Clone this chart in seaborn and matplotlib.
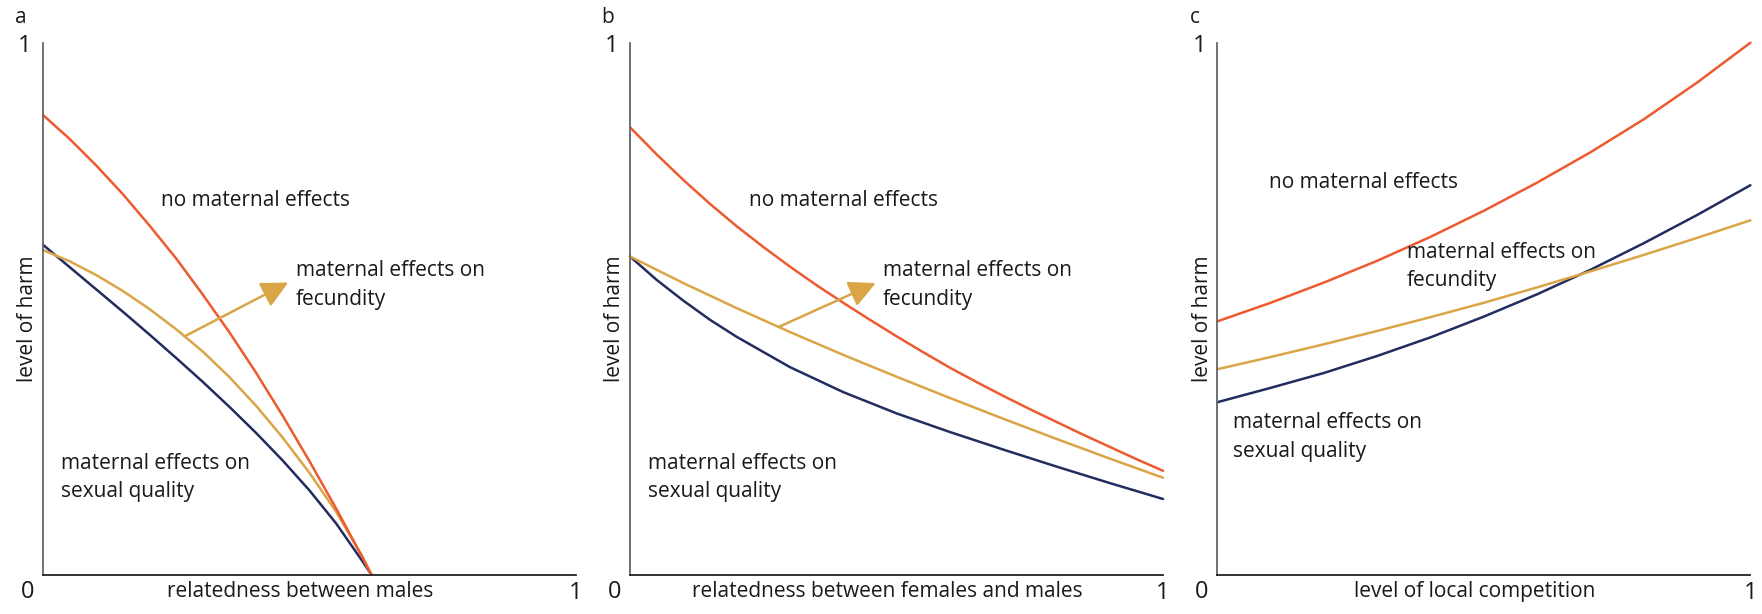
import matplotlib
matplotlib.use("Agg")
import matplotlib.pyplot as plt
import seaborn as sns
import numpy as np
import pandas as pd

# cores das curvas
RED = "#EE5A2F"
GOLD = "#D9A546"
NAVY = "#232C5F"

# painel a - parentesco entre machos
a_x = [0, 0.05, 0.1, 0.15, 0.2, 0.25, 0.3, 0.35, 0.4, 0.45, 0.5, 0.55, 0.6, 0.616]
a_red_y = [0.864, 0.819, 0.769, 0.715, 0.656, 0.594, 0.526, 0.455, 0.379, 0.298, 0.213, 0.124, 0.031, 0.0]
a_gold_y = [0.610, 0.589, 0.563, 0.533, 0.499, 0.461, 0.419, 0.371, 0.317, 0.257, 0.191, 0.118, 0.032, 0.0]
a_navy_y = [0.620, 0.578, 0.536, 0.494, 0.451, 0.407, 0.362, 0.315, 0.266, 0.214, 0.158, 0.096, 0.024, 0.0]
a_arrow = [(0.266, 0.448), (0.460, 0.549)]

# painel b - parentesco entre femeas e machos
b_red_x = [0, 0.05, 0.1, 0.15, 0.2, 0.25, 0.3, 0.35, 0.4, 0.45, 0.5, 0.55, 0.6, 0.65, 0.7, 0.75, 0.8, 0.85, 0.9, 0.95, 1.0]
b_red_y = [0.841, 0.790, 0.742, 0.697, 0.655, 0.616, 0.579, 0.544, 0.511, 0.479, 0.448, 0.418, 0.389, 0.362, 0.336, 0.311, 0.287, 0.263, 0.240, 0.217, 0.195]
b_gold_x = [0, 0.1, 0.2, 0.3, 0.4, 0.5, 0.6, 0.7, 0.8, 0.9, 1.0]
b_gold_y = [0.598, 0.548, 0.501, 0.456, 0.413, 0.372, 0.332, 0.293, 0.255, 0.218, 0.182]
b_navy_x = [0, 0.05, 0.1, 0.15, 0.2, 0.3, 0.4, 0.5, 0.6, 0.7, 0.8, 0.9, 1.0]
b_navy_y = [0.598, 0.554, 0.515, 0.479, 0.447, 0.390, 0.343, 0.303, 0.268, 0.235, 0.203, 0.172, 0.142]
b_arrow = [(0.280, 0.466), (0.461, 0.548)]

# painel c - competicao local
c_x = [0, 0.1, 0.2, 0.3, 0.4, 0.5, 0.6, 0.7, 0.8, 0.9, 1.0]
c_red_y = [0.476, 0.511, 0.549, 0.590, 0.635, 0.684, 0.737, 0.794, 0.856, 0.925, 1.0]
c_gold_y = [0.386, 0.409, 0.433, 0.458, 0.484, 0.511, 0.540, 0.570, 0.601, 0.633, 0.666]
c_navy_y = [0.324, 0.351, 0.379, 0.411, 0.446, 0.485, 0.527, 0.573, 0.623, 0.676, 0.732]

xlabels = ["relatedness between males", "relatedness between females and males", "level of local competition"]
panel_tags = ["a", "b", "c"]

# posicoes dos textos (coordenadas de dados)
txt_none = [(0.222, 0.704), (0.223, 0.704), (0.097, 0.737)]
txt_fec = [(0.474, 0.572, 0.518), (0.475, 0.572, 0.518), (0.355, 0.605, 0.552)]
txt_sex = [(0.033, 0.209, 0.156), (0.034, 0.209, 0.156), (0.030, 0.286, 0.232)]

sns.set_theme(style="white")
plt.rcParams["font.family"] = ["Open Sans", "DejaVu Sans"]

fig = plt.figure(figsize=(17.62, 6.14), dpi=100)
lefts = [43 / 1762, 630 / 1762, 1217.4 / 1762]
W = 533 / 1762
B = (614 - 574.5) / 614
H = (574.5 - 42.7) / 614

panels = [
    [(a_x, a_navy_y, NAVY), (a_x, a_gold_y, GOLD), (a_x, a_red_y, RED)],
    [(b_navy_x, b_navy_y, NAVY), (b_gold_x, b_gold_y, GOLD), (b_red_x, b_red_y, RED)],
    [(c_x, c_navy_y, NAVY), (c_x, c_gold_y, GOLD), (c_x, c_red_y, RED)],
]
arrows = [a_arrow, b_arrow, None]

FS = 15
TXT = "#1a1a1a"
for i in range(3):
    ax = fig.add_axes([lefts[i], B, W, H])
    for xs, ys, col in panels[i]:
        sns.lineplot(x=xs, y=ys, ax=ax, color=col, lw=1.8, sort=False, clip_on=False)
    ax.set_xlim(0, 1)
    ax.set_ylim(0, 1)
    for s in ["top", "right"]:
        ax.spines[s].set_visible(False)
    ax.spines["left"].set_color("#666666")
    ax.spines["bottom"].set_color("#222222")
    ax.spines["left"].set_linewidth(1.3)
    ax.spines["bottom"].set_linewidth(1.3)
    ax.set_xticks([1])
    ax.set_yticks([1])
    ax.set_xticklabels(["1"])
    ax.set_yticklabels(["1"])
    ax.tick_params(axis="both", direction="in", length=5, width=1.2, labelsize=17,
                   colors="#555555", labelcolor=TXT)
    ax.tick_params(axis="y", pad=8)
    ax.tick_params(axis="x", pad=5)

    ax.annotate("0", xy=(0, 0), xycoords="axes fraction", xytext=(-11, -12.5), textcoords="offset points",
                ha="center", va="center", fontsize=17, color=TXT)
    ax.annotate(xlabels[i], xy=(0.483, 0), xycoords="axes fraction", xytext=(0, -12.5), textcoords="offset points",
                ha="center", va="center", fontsize=FS, color=TXT)
    ax.annotate("level of harm", xy=(0, 0.48), xycoords="axes fraction", xytext=(-11, 0), textcoords="offset points",
                ha="center", va="center", rotation=90, fontsize=FS, color=TXT)
    ax.annotate(panel_tags[i], xy=(0, 1), xycoords="axes fraction", xytext=(-16, 18), textcoords="offset points",
                ha="center", va="center", fontsize=FS, color=TXT)

    x0, y0 = txt_none[i]
    ax.text(x0, y0, "no maternal effects", ha="left", va="center", fontsize=FS, color=TXT)
    x0, y1, y2 = txt_fec[i]
    ax.text(x0, y1, "maternal effects on", ha="left", va="center", fontsize=FS, color=TXT)
    ax.text(x0, y2, "fecundity", ha="left", va="center", fontsize=FS, color=TXT)
    x0, y1, y2 = txt_sex[i]
    ax.text(x0, y1, "maternal effects on", ha="left", va="center", fontsize=FS, color=TXT)
    ax.text(x0, y2, "sexual quality", ha="left", va="center", fontsize=FS, color=TXT)

    if arrows[i] is not None:
        (bx, by), (tx, ty) = arrows[i]
        ax.annotate("", xy=(tx, ty), xytext=(bx, by),
                    arrowprops=dict(arrowstyle="-|>,head_length=0.9,head_width=0.45", color=GOLD, lw=1.8,
                                    mutation_scale=18, shrinkA=0, shrinkB=0))

fig.savefig("out.png", dpi=100)
